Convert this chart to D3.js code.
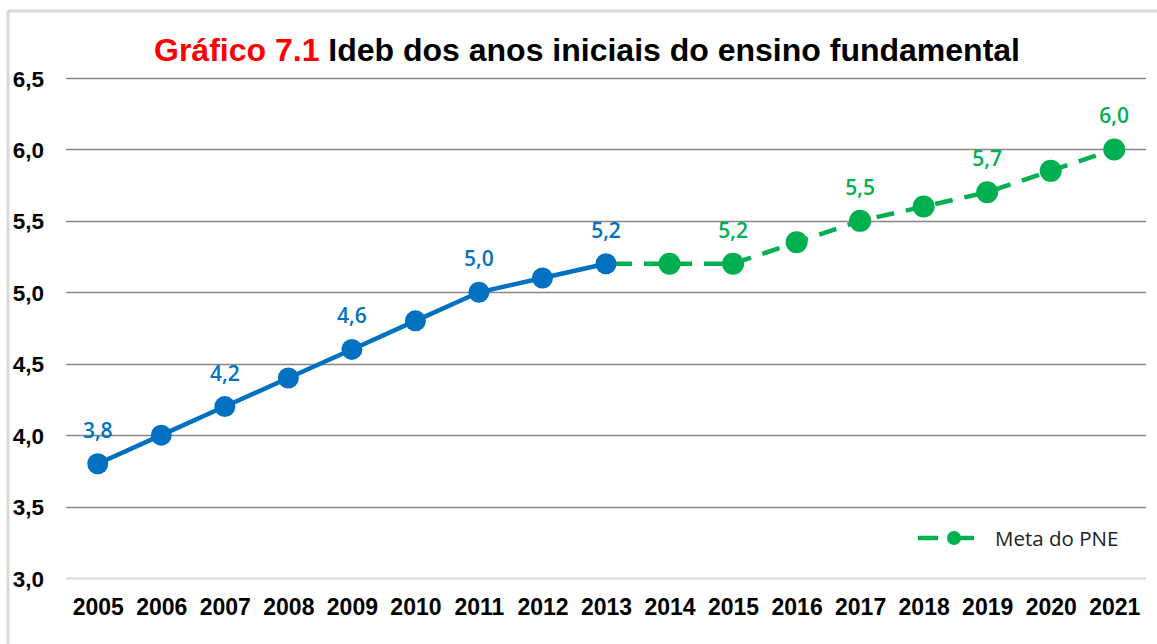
<!DOCTYPE html>
<html>
<head>
<meta charset="utf-8">
<script src="https://cdn.jsdelivr.net/npm/d3@7"></script>
<style>
  body { margin: 0; background: #fff; }
</style>
</head>
<body>
<script>
// data
const years = ["2005", "2006", "2007", "2008", "2009", "2010", "2011", "2012", "2013",
               "2014", "2015", "2016", "2017", "2018", "2019", "2020", "2021"];
const ideb = [3.8, 4.0, 4.2, 4.4, 4.6, 4.8, 5.0, 5.1, 5.2];            // 2005-2013
const metaYears = ["2013", "2014", "2015", "2016", "2017", "2018", "2019", "2020", "2021"];
const metaPne = [5.2, 5.2, 5.2, 5.35, 5.5, 5.6, 5.7, 5.85, 6.0];
const idebLabelYears = ["2005", "2007", "2009", "2011", "2013"];
const metaLabelYears = ["2015", "2017", "2019", "2021"];
const yTicks = [3.0, 3.5, 4.0, 4.5, 5.0, 5.5, 6.0, 6.5];

const width = 1157, height = 644;
const BLUE = "#0070c0", GREEN = "#00b050";
const BOLD_FONT = "Liberation Sans, Arial, sans-serif";
const LABEL_FONT = "Open Sans, sans-serif";

const svg = d3.select("body").append("svg")
    .attr("width", width)
    .attr("height", height);

// chart frame (only top and left edges show in the picture)
svg.append("line").attr("x1", 8).attr("x2", width).attr("y1", 11).attr("y2", 11)
    .attr("stroke", "#d9d9d9").attr("stroke-width", 3);
svg.append("line").attr("x1", 8).attr("x2", 8).attr("y1", 11).attr("y2", height)
    .attr("stroke", "#d9d9d9").attr("stroke-width", 3);

const x = d3.scalePoint().domain(years).range([66, 1146]).padding(0.5);
const y = d3.scaleLinear().domain([3.0, 6.5]).range([578, 78]);

// gridlines
svg.append("g").selectAll("line")
    .data(yTicks)
    .enter().append("line")
    .attr("x1", 66).attr("x2", 1146)
    .attr("y1", d => Math.round(y(d)) + 0.5)
    .attr("y2", d => Math.round(y(d)) + 0.5)
    .attr("stroke", d => d == 3.0 ? "#d9d9d9" : "#868686")
    .attr("stroke-width", d => d == 3.0 ? 2 : 1.3);

const fmt = v => d3.format(".1f")(v).replace(".", ",");

// y axis labels
const yAxis = svg.append("g")
    .attr("transform", "translate(44,0)")
    .call(d3.axisLeft(y).tickValues(yTicks).tickFormat(fmt).tickSize(0).tickPadding(0));
yAxis.select(".domain").remove();
yAxis.selectAll("text")
    .attr("font-size", 22.5).attr("font-weight", "bold").attr("fill", "#000")
    .attr("font-family", BOLD_FONT)
    .attr("dy", "0.36em");

// x axis labels
const xAxis = svg.append("g")
    .attr("transform", "translate(0,596)")
    .call(d3.axisBottom(x).tickSize(0).tickPadding(0));
xAxis.select(".domain").remove();
xAxis.selectAll("text")
    .attr("font-size", 23).attr("font-weight", "bold").attr("fill", "#000")
    .attr("font-family", BOLD_FONT)
    .attr("dy", "0.82em");

// title
const title = svg.append("text")
    .attr("x", 587).attr("y", 61)
    .attr("text-anchor", "middle")
    .attr("font-family", BOLD_FONT)
    .attr("font-size", 32).attr("font-weight", "bold");
title.append("tspan").attr("fill", "#ff0000").text("Gráfico 7.1 ");
title.append("tspan").attr("fill", "#000").text("Ideb dos anos iniciais do ensino fundamental");

// Meta do PNE (dashed green)
const metaData = metaYears.map((d, i) => ({ year: d, value: metaPne[i] }));
const idebData = years.slice(0, ideb.length).map((d, i) => ({ year: d, value: ideb[i] }));

const line = d3.line().x(d => x(d.year)).y(d => y(d.value));

svg.append("path")
    .datum(metaData)
    .attr("d", line)
    .attr("fill", "none")
    .attr("stroke", GREEN)
    .attr("stroke-width", 4.5)
    .attr("stroke-dasharray", "18,12")
    .attr("stroke-dashoffset", -8);

svg.append("g").selectAll("circle")
    .data(metaData.slice(1))
    .enter().append("circle")
    .attr("cx", d => x(d.year))
    .attr("cy", d => y(d.value))
    .attr("r", 11)
    .attr("fill", GREEN);

// Ideb (solid blue)
svg.append("path")
    .datum(idebData)
    .attr("d", line)
    .attr("fill", "none")
    .attr("stroke", BLUE)
    .attr("stroke-width", 4.5);

svg.append("g").selectAll("circle")
    .data(idebData)
    .enter().append("circle")
    .attr("cx", d => x(d.year))
    .attr("cy", d => y(d.value))
    .attr("r", 10.5)
    .attr("fill", BLUE);

// data labels
svg.append("g").selectAll("text")
    .data(idebData.filter(d => idebLabelYears.includes(d.year)))
    .enter().append("text")
    .attr("x", d => x(d.year))
    .attr("y", d => y(d.value) - 26)
    .attr("text-anchor", "middle")
    .attr("font-family", LABEL_FONT)
    .attr("font-weight", 600)
    .attr("font-size", 21)
    .attr("fill", BLUE)
    .text(d => fmt(d.value));

svg.append("g").selectAll("text")
    .data(metaData.filter(d => metaLabelYears.includes(d.year)))
    .enter().append("text")
    .attr("x", d => x(d.year))
    .attr("y", d => y(d.value) - 26)
    .attr("text-anchor", "middle")
    .attr("font-family", LABEL_FONT)
    .attr("font-weight", 600)
    .attr("font-size", 21)
    .attr("fill", GREEN)
    .text(d => fmt(d.value));

// legend
const legend = svg.append("g").attr("transform", "translate(918,538)");
legend.append("line").attr("x1", 0).attr("x2", 20).attr("y1", 0).attr("y2", 0)
    .attr("stroke", GREEN).attr("stroke-width", 4.5);
legend.append("line").attr("x1", 34).attr("x2", 56).attr("y1", 0).attr("y2", 0)
    .attr("stroke", GREEN).attr("stroke-width", 4.5);
legend.append("circle").attr("cx", 36).attr("cy", 0).attr("r", 7).attr("fill", GREEN);
legend.append("text")
    .attr("x", 77).attr("y", 7.5)
    .attr("font-family", LABEL_FONT)
    .attr("font-size", 20.5)
    .attr("fill", "#222")
    .text("Meta do PNE");
</script>
</body>
</html>
